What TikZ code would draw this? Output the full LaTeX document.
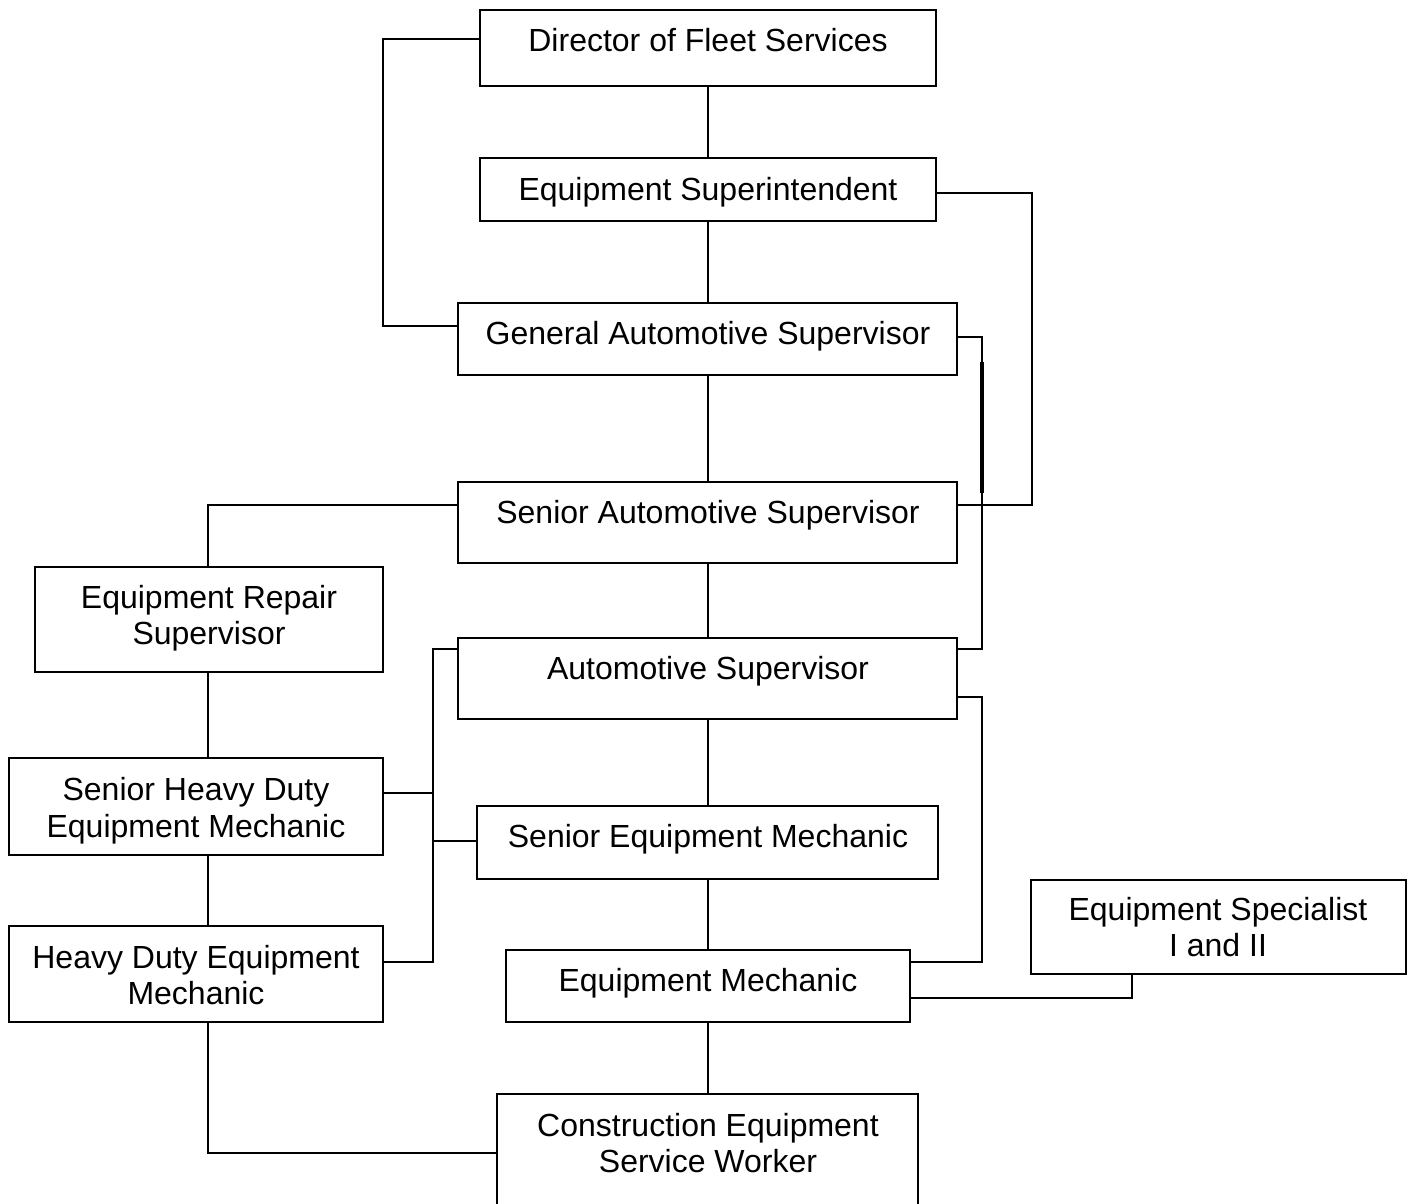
\documentclass[tikz,border=0pt]{standalone}
\usepackage{fontspec}
\setmainfont{Liberation Sans}
\usetikzlibrary{fit}
\begin{document}
\begin{tikzpicture}[x=0.5pt,y=-0.5pt,
  box/.style={draw,line width=1pt,inner sep=0pt},
  txt/.style={anchor=base,inner sep=0pt,font=\fontsize{16}{18}\selectfont},
  conn/.style={line width=1pt},
  heavy/.style={line width=2pt}]
\useasboundingbox (0,0) rectangle (1410,1204);
\clip (0,0) rectangle (1410,1204);
% boxes
\node[box,fit={(480,10) (936,86)}] (dir) {};
\node[box,fit={(480,158) (936,221)}] (sup) {};
\node[box,fit={(458,303) (957,375)}] (gas) {};
\node[box,fit={(458,482) (957,563)}] (sas) {};
\node[box,fit={(458,638) (957,719)}] (as) {};
\node[box,fit={(477,806) (938,879)}] (sem) {};
\node[box,fit={(506,950) (910,1022)}] (em) {};
\node[box,fit={(497,1094) (918,1220)}] (cesw) {};
\node[box,fit={(35,567) (383,672)}] (ers) {};
\node[box,fit={(9,758) (383,855)}] (shdem) {};
\node[box,fit={(9,926) (383,1022)}] (hdem) {};
\node[box,fit={(1031,880) (1406,974)}] (esp) {};
% texts
\node[txt] (dirt) at (708,52) {Director of Fleet Services};
\node[txt] (supt) at (708,200) {Equipment Superintendent};
\node[txt] (gast) at (708,344) {General Automotive Supervisor};
\node[txt] (sast) at (708,523) {Senior Automotive Supervisor};
\node[txt] (ast) at (708,679) {Automotive Supervisor};
\node[txt] (semt) at (708,847) {Senior Equipment Mechanic};
\node[txt] (emt) at (708,991) {Equipment Mechanic};
\node[txt] (cesw1) at (708,1136) {Construction Equipment};
\node[txt] (cesw2) at (708,1172) {Service Worker};
\node[txt] (ers1) at (209,608) {Equipment Repair};
\node[txt] (ers2) at (209,644) {Supervisor};
\node[txt] (shdem1) at (196,800) {Senior Heavy Duty};
\node[txt] (shdem2) at (196,837) {Equipment Mechanic};
\node[txt] (hdem1) at (196,968) {Heavy Duty Equipment};
\node[txt] (hdem2) at (196,1004) {Mechanic};
\node[txt] (esp1) at (1218,920) {Equipment Specialist};
\node[txt] (esp2) at (1218,956) {I and II};
% joints
\coordinate (lA) at (383,39);
\coordinate (lB) at (383,326);
\coordinate (rA) at (1032,193);
\coordinate (rB) at (1032,505);
\coordinate (rC) at (982,337);
\coordinate (rD) at (982,649);
\coordinate (rE) at (982,362);
\coordinate (rF) at (982,493);
\coordinate (rG) at (982,697);
\coordinate (rH) at (982,962);
\coordinate (rI) at (1131.5,998);
\coordinate (lC) at (208,505);
\coordinate (lD) at (208,1153);
\coordinate (lE) at (433,649);
\coordinate (lF) at (433,962);
\coordinate (lG) at (433,793);
\coordinate (lH) at (433,841);
% vertical chain
\draw[conn] (dir.south) -- (dir.south |- sup.north);
\draw[conn] (sup.south) -- (sup.south |- gas.north);
\draw[conn] (gas.south) -- (gas.south |- sas.north);
\draw[conn] (sas.south) -- (sas.south |- as.north);
\draw[conn] (as.south) -- (as.south |- sem.north);
\draw[conn] (sem.south) -- (sem.south |- em.north);
\draw[conn] (em.south) -- (em.south |- cesw.north);
% elbows
\draw[conn] (dir.west |- lA) -- (lA) -- (lB) -- (gas.west |- lB);
\draw[conn] (sup.east |- rA) -- (rA) -- (rB) -- (sas.east |- rB);
\draw[conn] (gas.east |- rC) -- (rC) -- (rD) -- (as.east |- rD);
\draw[heavy] (rE) -- (rF);
\draw[conn] (as.east |- rG) -- (rG) -- (rH) -- (em.east |- rH);
\draw[conn] (em.east |- rI) -- (rI) -- (rI |- esp.south);
\draw[conn] (sas.west |- lC) -- (lC) -- (lC |- ers.north);
\draw[conn] (lC |- ers.south) -- (lC |- shdem.north);
\draw[conn] (lC |- shdem.south) -- (lC |- hdem.north);
\draw[conn] (lC |- hdem.south) -- (lD) -- (cesw.west |- lD);
\draw[conn] (as.west |- lE) -- (lE) -- (lF) -- (hdem.east |- lF);
\draw[conn] (shdem.east |- lG) -- (lG);
\draw[conn] (lH) -- (sem.west |- lH);
\end{tikzpicture}
\end{document}
